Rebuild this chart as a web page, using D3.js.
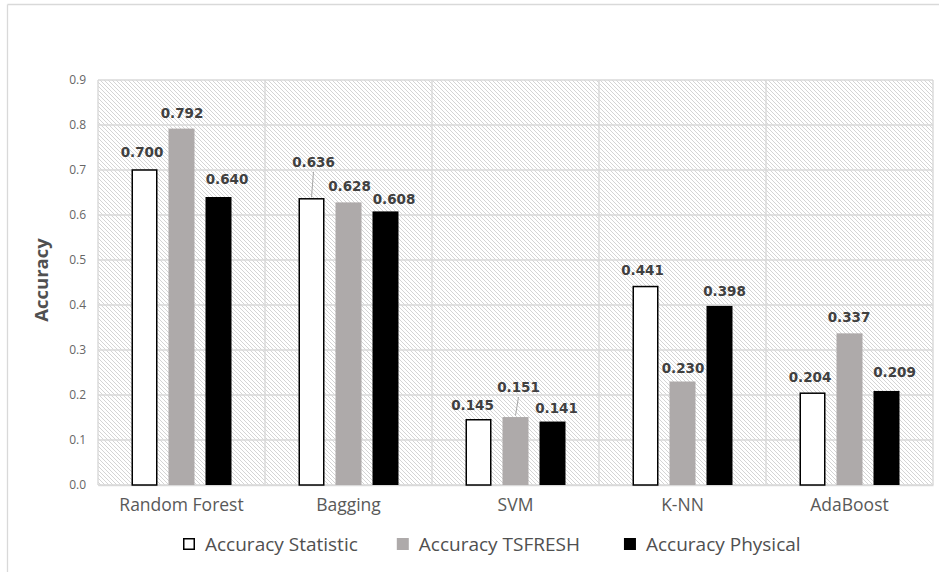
<!DOCTYPE html>
<html>
<head>
<meta charset="utf-8">
<script src="https://cdn.jsdelivr.net/npm/d3@7"></script>
<style>
  html, body { margin: 0; padding: 0; background: #fff; }
  svg { display: block; }
</style>
</head>
<body>
<svg id="chart" width="939" height="572"></svg>
<script>
// Classifier accuracy for three feature sets
const categories = ["Random Forest", "Bagging", "SVM", "K-NN", "AdaBoost"];
const seriesNames = ["Accuracy Statistic", "Accuracy TSFRESH", "Accuracy Physical"];
const accStatistic = [0.700, 0.636, 0.145, 0.441, 0.204];
const accTsfresh   = [0.792, 0.628, 0.151, 0.230, 0.337];
const accPhysical  = [0.640, 0.608, 0.141, 0.398, 0.209];
const yTicks = [0.0, 0.1, 0.2, 0.3, 0.4, 0.5, 0.6, 0.7, 0.8, 0.9];

const seriesValues = [accStatistic, accTsfresh, accPhysical];
const fills   = ["#ffffff", "#aeaaaa", "#000000"];
const strokes = ["#000000", "none", "none"];

// label placement tweaks (dx, dy from default spot above the bar), leader = draw connector
const labelNudge = {
  "Random Forest|0": { dx: -2.5, dy: -2 },
  "Random Forest|1": { dx: 0.5, dy: 0 },
  "Random Forest|2": { dx: 8.5, dy: -2 },
  "Bagging|0": { dx: 2, dy: -21, leader: true },
  "Bagging|1": { dx: 1, dy: 0 },
  "Bagging|2": { dx: 8.5, dy: 4 },
  "SVM|0": { dx: -6, dy: 1 },
  "SVM|1": { dx: 3, dy: -14, leader: true },
  "SVM|2": { dx: 4, dy: 2 },
  "K-NN|0": { dx: -3, dy: -1 },
  "K-NN|1": { dx: 0.5, dy: 2 },
  "K-NN|2": { dx: 5, dy: 1 },
  "AdaBoost|0": { dx: -2.5, dy: 0 },
  "AdaBoost|1": { dx: -0.5, dy: 0 },
  "AdaBoost|2": { dx: 8, dy: -3 }
};

const svg = d3.select("#chart");
const plot = { left: 98, right: 933, top: 80, bottom: 485 };

// hatched plot background
const defs = svg.append("defs");
const pat = defs.append("pattern")
  .attr("id", "hatch")
  .attr("patternUnits", "userSpaceOnUse")
  .attr("width", 4).attr("height", 4);
pat.append("rect").attr("width", 4).attr("height", 4).attr("fill", "#ffffff");
pat.append("path")
  .attr("d", "M-1,-1 L5,5 M-1,3 L1,5 M3,-1 L5,1")
  .attr("stroke", "#d4d4d4").attr("stroke-width", 1);

// outer chart frame
svg.append("line").attr("x1", 7.5).attr("y1", 4.5).attr("x2", 939).attr("y2", 4.5)
  .attr("stroke", "#d9d9d9").attr("stroke-width", 1.3);
svg.append("line").attr("x1", 7.5).attr("y1", 4.5).attr("x2", 7.5).attr("y2", 572)
  .attr("stroke", "#d9d9d9").attr("stroke-width", 1.3);

const x0 = d3.scaleBand().domain(categories).range([plot.left, plot.right]).padding(0);
const x1 = d3.scaleBand().domain(d3.range(seriesNames.length))
  .range([0, 111]).paddingInner(11 / 37).paddingOuter(11 / 74);
const y = d3.scaleLinear().domain([0, 0.9]).range([plot.bottom, plot.top]);

svg.append("rect")
  .attr("x", plot.left).attr("y", plot.top)
  .attr("width", plot.right - plot.left).attr("height", plot.bottom - plot.top)
  .attr("fill", "url(#hatch)");

// horizontal gridlines
svg.append("g").selectAll("line").data(yTicks).join("line")
  .attr("x1", plot.left).attr("x2", plot.right)
  .attr("y1", d => y(d)).attr("y2", d => y(d))
  .attr("stroke", "#d9d9d9").attr("stroke-width", 1.4);

// vertical category dividers
const edges = categories.map(c => x0(c)).concat([plot.right]);
svg.append("g").selectAll("line").data(edges).join("line")
  .attr("x1", d => d).attr("x2", d => d)
  .attr("y1", plot.top).attr("y2", plot.bottom)
  .attr("stroke", "#d9d9d9").attr("stroke-width", 1.4);

// y axis tick labels
const yAxis = d3.axisLeft(y).tickValues(yTicks).tickFormat(d3.format(".1f")).tickSize(0).tickPadding(12);
const yg = svg.append("g").attr("transform", `translate(${plot.left},0)`).call(yAxis);
yg.select(".domain").remove();
yg.selectAll("text")
  .attr("font-family", "'Open Sans', sans-serif").attr("font-size", 12).attr("fill", "#666666");

// x axis category labels
const xAxis = d3.axisBottom(x0).tickSize(0).tickPadding(14);
const xg = svg.append("g").attr("transform", `translate(0,${plot.bottom})`).call(xAxis);
xg.select(".domain").attr("stroke", "#d9d9d9").attr("stroke-width", 1.4);
xg.selectAll("text")
  .attr("font-family", "'Open Sans', sans-serif").attr("font-size", 17.5).attr("fill", "#595959");

// y axis title
svg.append("text")
  .attr("transform", "translate(48,280) rotate(-90)")
  .attr("text-anchor", "middle")
  .attr("font-family", "'Open Sans', sans-serif").attr("font-weight", "bold")
  .attr("font-size", 18.5).attr("fill", "#505050")
  .text("Accuracy");

// bars
const barData = [];
categories.forEach((c, ci) => {
  seriesValues.forEach((vals, si) => {
    barData.push({ cat: c, s: si, v: vals[ci] });
  });
});
const bx = d => x0(d.cat) + x0.bandwidth() / 2 - 55.5 + x1(d.s);

svg.append("g").selectAll("rect").data(barData).join("rect")
  .attr("x", d => bx(d) + (d.s === 0 ? 0.75 : 0))
  .attr("y", d => y(d.v))
  .attr("width", d => x1.bandwidth() - (d.s === 0 ? 1.5 : 0))
  .attr("height", d => y(0) - y(d.v))
  .attr("fill", d => fills[d.s])
  .attr("stroke", d => strokes[d.s])
  .attr("stroke-width", 1.5);

// value labels
const lg = svg.append("g");
barData.forEach(d => {
  const n = labelNudge[d.cat + "|" + d.s] || { dx: 0, dy: 0 };
  const cx = bx(d) + x1.bandwidth() / 2;
  const top = y(d.v);
  const lx = cx + n.dx;
  const ly = top - 11 + n.dy;
  if (n.leader) {
    lg.append("line")
      .attr("x1", lx).attr("y1", ly + 5)
      .attr("x2", cx).attr("y2", top - 1.5)
      .attr("stroke", "#a6a6a6").attr("stroke-width", 1);
  }
  lg.append("text")
    .attr("x", lx).attr("y", ly)
    .attr("text-anchor", "middle")
    .attr("font-family", "'DejaVu Sans', sans-serif").attr("font-weight", "bold")
    .attr("font-size", 13.5).attr("fill", "#404040")
    .text(d3.format(".3f")(d.v));
});

// legend
const leg = svg.append("g").attr("font-family", "'Open Sans', sans-serif");
const legGaps = [0, 39, 44];
let lxPos = 183;
seriesNames.forEach((name, i) => {
  lxPos += legGaps[i];
  leg.append("rect")
    .attr("x", lxPos + (i === 0 ? 0.75 : 0)).attr("y", 538 + (i === 0 ? 0.75 : 0))
    .attr("width", i === 0 ? 10.5 : 12).attr("height", i === 0 ? 10.5 : 12)
    .attr("fill", fills[i]).attr("stroke", strokes[i]).attr("stroke-width", 1.5);
  const t = leg.append("text")
    .attr("x", lxPos + 22).attr("y", 551)
    .attr("font-size", 19).attr("fill", "#505050")
    .text(name);
  lxPos += 22 + t.node().getComputedTextLength();
});
</script>
</body>
</html>
